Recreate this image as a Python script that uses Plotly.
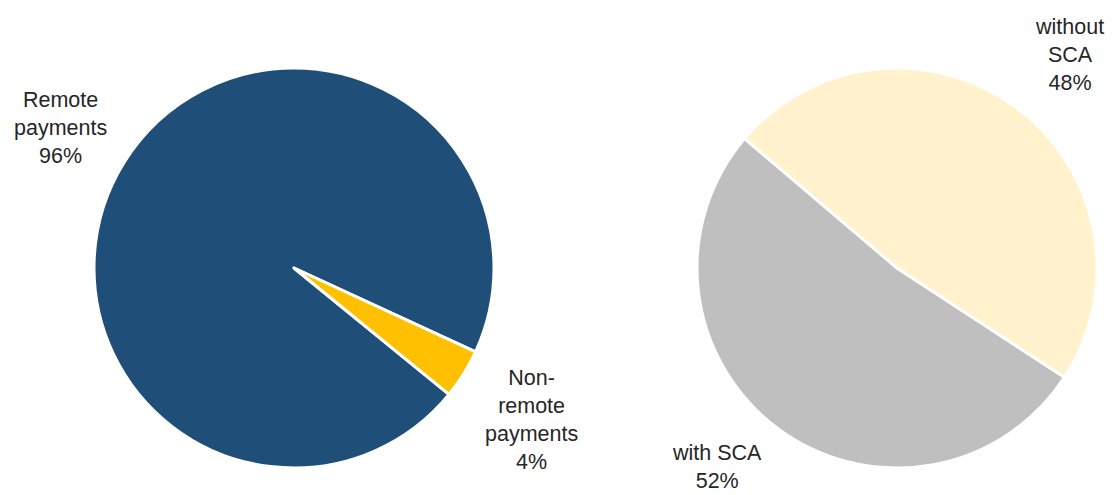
import plotly.graph_objects as go

# Left pie: payment channel
channel_labels = ["Remote payments", "Non-remote payments"]
channel_text = ["Remote<br>payments", "Non-<br>remote<br>payments"]
channel_values = [96, 4]
channel_colors = ["#1F4E79", "#FFC000"]

# Right pie: authentication
sca_labels = ["with SCA", "without SCA"]
sca_text = ["with SCA", "without<br>SCA"]
sca_values = [52, 48]
sca_colors = ["#BFBFBF", "#FFF2CC"]

OFF = 8  # page body margin offset
W, H = 1113 - OFF, 495 - OFF


def px_x(x):
    return (x - OFF) / W


def px_y(y):
    return (H - (y - OFF)) / H


fig = go.Figure()
fig.add_trace(go.Pie(
    labels=channel_labels, values=channel_values, sort=False,
    direction="clockwise", rotation=129.2,
    marker=dict(colors=channel_colors, line=dict(color="white", width=3)),
    textinfo="none", hoverinfo="label+percent",
    domain=dict(x=[px_x(94), px_x(494)], y=[px_y(468), px_y(68)]),
    showlegend=False,
))
fig.add_trace(go.Pie(
    labels=sca_labels, values=sca_values, sort=False,
    direction="clockwise", rotation=123.15,
    marker=dict(colors=sca_colors, line=dict(color="white", width=3)),
    textinfo="none", hoverinfo="label+percent",
    domain=dict(x=[px_x(697), px_x(1097)], y=[px_y(468), px_y(68)]),
    showlegend=False,
))

# label positions (pixel centres)
left_pos = [(60, 128), (531, 420)]
right_pos = [(717, 467), (1069, 55)]

font = dict(family="Liberation Sans, Arial, sans-serif", size=21.5, color="#262626")
for txt, val, (px, py) in zip(channel_text, channel_values, left_pos):
    fig.add_annotation(text=f"{txt}<br>{val}%", x=px_x(px), y=px_y(py),
                       xref="paper", yref="paper", xanchor="center", yanchor="middle",
                       showarrow=False, align="center", font=font)
for txt, val, (px, py) in zip(sca_text, sca_values, right_pos):
    fig.add_annotation(text=f"{txt}<br>{val}%", x=px_x(px), y=px_y(py),
                       xref="paper", yref="paper", xanchor="center", yanchor="middle",
                       showarrow=False, align="center", font=font)

fig.update_layout(width=W, height=H, margin=dict(l=0, r=0, t=0, b=0),
                  paper_bgcolor="white", plot_bgcolor="white")
fig.write_html("out.html")
